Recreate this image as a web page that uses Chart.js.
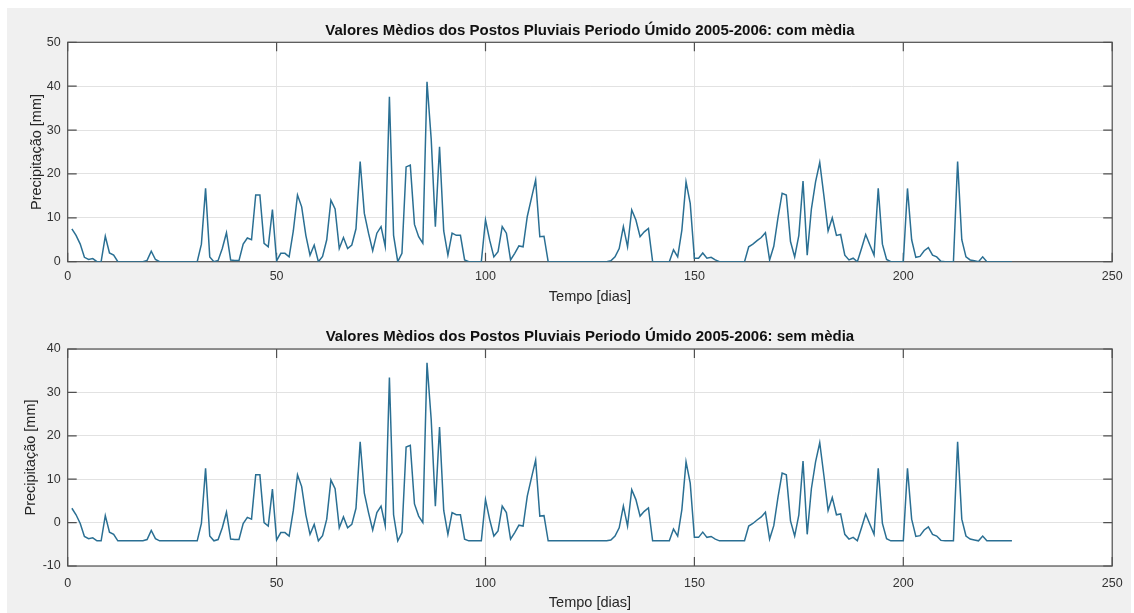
<!DOCTYPE html>
<html>
<head>
<meta charset="utf-8">
<script src="https://cdn.jsdelivr.net/npm/chart.js@4.4.1/dist/chart.umd.min.js"></script>
<style>
  body { margin: 0; background: #ffffff; }
  #figura { position: absolute; left: 7px; top: 8px; width: 1124px; height: 605px; background: #f0f0f0; }
  canvas { position: absolute; left: 0; }
  #grafCom { top: 0; }
  #grafSem { top: 306px; }
</style>
</head>
<body>
<div id="figura"></div>
<canvas id="grafCom" width="1134" height="306"></canvas>
<canvas id="grafSem" width="1134" height="307"></canvas>
<script>
// dias do periodo umido
const dias = Array.from({ length: 226 }, (_, i) => i + 1);

// precipitacao media diaria dos postos [mm]
const comMedia = [
  7.5, 6, 4, 1, 0.5, 0.7, 0, 0, 5.8, 2,
  1.5, 0, 0, 0, 0, 0, 0, 0, 0.3, 2.4,
  0.5, 0, 0, 0, 0, 0, 0, 0, 0, 0,
  0, 4, 16.7, 1.1, 0, 0.3, 3, 6.6, 0.4, 0.3,
  0.3, 4, 5.4, 5, 15.2, 15.2, 4.2, 3.4, 11.9, 0.2,
  1.9, 1.9, 1.1, 7, 15.2, 12.5, 6, 1.5, 3.8, 0,
  1.2, 5, 14, 12, 3, 5.5, 3, 3.8, 7.5, 22.8,
  11, 6.5, 2.5, 6.5, 8, 3.5, 37.6, 6, 0, 1.9,
  21.6, 22, 8.5, 5.7, 4.2, 41, 28, 8, 26.2, 7,
  1.5, 6.5, 6, 6, 0.4, 0, 0, 0, 0, 9.5,
  4.9, 1.1, 2.3, 8, 6.5, 0.4, 1.9, 3.6, 3.4, 10.3,
  14.5, 18.6, 5.7, 5.8, 0, 0, 0, 0, 0, 0,
  0, 0, 0, 0, 0, 0, 0, 0, 0, 0.2,
  1.1, 3, 8, 3.4, 11.8, 9.5, 5.7, 6.8, 7.6, 0,
  0, 0, 0, 0, 2.7, 1.1, 7.2, 18.2, 13.3, 0.8,
  0.8, 2, 0.8, 1, 0.4, 0, 0, 0, 0, 0,
  0, 0, 3.4, 4, 4.8, 5.5, 6.6, 0.4, 3.5, 10,
  15.6, 15.2, 4.6, 1.1, 6, 18.4, 1.5, 12, 18.2, 22.6,
  15, 7, 10, 6, 6.2, 1.5, 0.4, 0.8, 0, 3,
  6.2, 3.8, 1.5, 16.7, 4, 0.5, 0, 0, 0, 0,
  16.7, 5, 1, 1.2, 2.5, 3.2, 1.5, 1.1, 0.1, 0,
  0, 0, 22.8, 5, 1.1, 0.4, 0.2, 0, 1.1, 0,
  0, 0, 0, 0, 0, 0
];

// mesma serie com a media do periodo retirada [mm]
const semMedia = [
  3.3, 1.8, -0.2, -3.2, -3.7, -3.5, -4.2, -4.2, 1.6, -2.2,
  -2.7, -4.2, -4.2, -4.2, -4.2, -4.2, -4.2, -4.2, -3.9, -1.8,
  -3.7, -4.2, -4.2, -4.2, -4.2, -4.2, -4.2, -4.2, -4.2, -4.2,
  -4.2, -0.2, 12.5, -3.1, -4.2, -3.9, -1.2, 2.4, -3.8, -3.9,
  -3.9, -0.2, 1.2, 0.8, 11, 11, 0, -0.8, 7.7, -4,
  -2.3, -2.3, -3.1, 2.8, 11, 8.3, 1.8, -2.7, -0.4, -4.2,
  -3, 0.8, 9.8, 7.8, -1.2, 1.3, -1.2, -0.4, 3.3, 18.6,
  6.8, 2.3, -1.7, 2.3, 3.8, -0.7, 33.4, 1.8, -4.2, -2.3,
  17.4, 17.8, 4.3, 1.5, 0, 36.8, 23.8, 3.8, 22, 2.8,
  -2.7, 2.3, 1.8, 1.8, -3.8, -4.2, -4.2, -4.2, -4.2, 5.3,
  0.7, -3.1, -1.9, 3.8, 2.3, -3.8, -2.3, -0.6, -0.8, 6.1,
  10.3, 14.4, 1.5, 1.6, -4.2, -4.2, -4.2, -4.2, -4.2, -4.2,
  -4.2, -4.2, -4.2, -4.2, -4.2, -4.2, -4.2, -4.2, -4.2, -4,
  -3.1, -1.2, 3.8, -0.8, 7.6, 5.3, 1.5, 2.6, 3.4, -4.2,
  -4.2, -4.2, -4.2, -4.2, -1.5, -3.1, 3, 14, 9.1, -3.4,
  -3.4, -2.2, -3.4, -3.2, -3.8, -4.2, -4.2, -4.2, -4.2, -4.2,
  -4.2, -4.2, -0.8, -0.2, 0.6, 1.3, 2.4, -3.8, -0.7, 5.8,
  11.4, 11, 0.4, -3.1, 1.8, 14.2, -2.7, 7.8, 14, 18.4,
  10.8, 2.8, 5.8, 1.8, 2, -2.7, -3.8, -3.4, -4.2, -1.2,
  2, -0.4, -2.7, 12.5, -0.2, -3.7, -4.2, -4.2, -4.2, -4.2,
  12.5, 0.8, -3.2, -3, -1.7, -1, -2.7, -3.1, -4.1, -4.2,
  -4.2, -4.2, 18.6, 0.8, -3.1, -3.8, -4, -4.2, -3.1, -4.2,
  -4.2, -4.2, -4.2, -4.2, -4.2, -4.2
];

const fonte = "'Liberation Sans', Arial, Helvetica, sans-serif";
const corLinha = "#2a6f93";

// fundo branco, moldura e marcas internas dos eixos (estilo matlab)
const moldura = {
  id: "moldura",
  beforeDraw(chart) {
    const { ctx, chartArea: a } = chart;
    ctx.save();
    ctx.fillStyle = "#ffffff";
    ctx.fillRect(a.left, a.top, a.right - a.left, a.bottom - a.top);
    ctx.restore();
  },
  beforeDatasetsDraw(chart) {
    const { ctx, chartArea: a, scales } = chart;
    const tam = 9;
    ctx.save();
    ctx.strokeStyle = "#505050";
    ctx.lineWidth = 1.2;
    ctx.strokeRect(a.left, a.top, a.right - a.left, a.bottom - a.top);
    ctx.beginPath();
    scales.x.ticks.forEach((t) => {
      const px = scales.x.getPixelForValue(t.value);
      ctx.moveTo(px, a.bottom);
      ctx.lineTo(px, a.bottom - tam);
      ctx.moveTo(px, a.top);
      ctx.lineTo(px, a.top + tam);
    });
    scales.y.ticks.forEach((t) => {
      const py = scales.y.getPixelForValue(t.value);
      ctx.moveTo(a.left, py);
      ctx.lineTo(a.left + tam, py);
      ctx.moveTo(a.right, py);
      ctx.lineTo(a.right - tam, py);
    });
    ctx.stroke();
    ctx.restore();
  },
};

function montaGrafico(id, titulo, valores, yMin, yMax, cfg) {
  const ctx = document.getElementById(id).getContext("2d");
  return new Chart(ctx, {
    type: "line",
    data: {
      labels: dias,
      datasets: [
        {
          data: valores,
          borderColor: corLinha,
          borderWidth: 1.5,
          pointRadius: 0,
          tension: 0,
          fill: false,
        },
      ],
    },
    options: {
      responsive: false,
      animation: false,
      layout: { padding: { top: cfg.topo, right: 21.8, bottom: 0, left: 0 } },
      plugins: {
        legend: { display: false },
        tooltip: { enabled: false },
        title: {
          display: true,
          text: titulo,
          fullSize: false,
          color: "#111111",
          font: { family: fonte, size: 15, weight: "bold" },
          padding: { top: 0, bottom: 2.7 },
        },
      },
      scales: {
        x: {
          type: "linear",
          min: 0,
          max: 250,
          ticks: {
            stepSize: 50,
            padding: cfg.xPad,
            color: "#333333",
            font: { family: fonte, size: 12.5 },
          },
          grid: { color: "#e2e2e2", drawTicks: false },
          border: { display: false },
          title: {
            display: true,
            text: "Tempo [dias]",
            color: "#262626",
            font: { family: fonte, size: 14.5 },
            padding: cfg.xTitPad,
          },
          afterFit: (s) => { s.height = cfg.xAltura; },
        },
        y: {
          min: yMin,
          max: yMax,
          ticks: {
            stepSize: 10,
            padding: 7,
            color: "#333333",
            font: { family: fonte, size: 12.5 },
          },
          grid: { color: "#e2e2e2", drawTicks: false },
          border: { display: false },
          title: {
            display: true,
            text: "Precipitação [mm]",
            color: "#262626",
            font: { family: fonte, size: 14.5 },
            padding: cfg.yTitPad,
          },
          afterFit: (s) => { s.width = 67.7; },
        },
      },
    },
    plugins: [moldura],
  });
}

montaGrafico("grafCom", "Valores Mèdios dos Postos Pluviais Periodo Úmido 2005-2006: com mèdia",
  comMedia, 0, 50, { topo: 21.6, xPad: 7, xTitPad: 0.6, xAltura: 44.3, yTitPad: 28 });

montaGrafico("grafSem", "Valores Mèdios dos Postos Pluviais Periodo Úmido 2005-2006: sem mèdia",
  semMedia, -10, 40, { topo: 22.3, xPad: 10, xTitPad: 1.6, xAltura: 47, yTitPad: 22.3 });
</script>
</body>
</html>
